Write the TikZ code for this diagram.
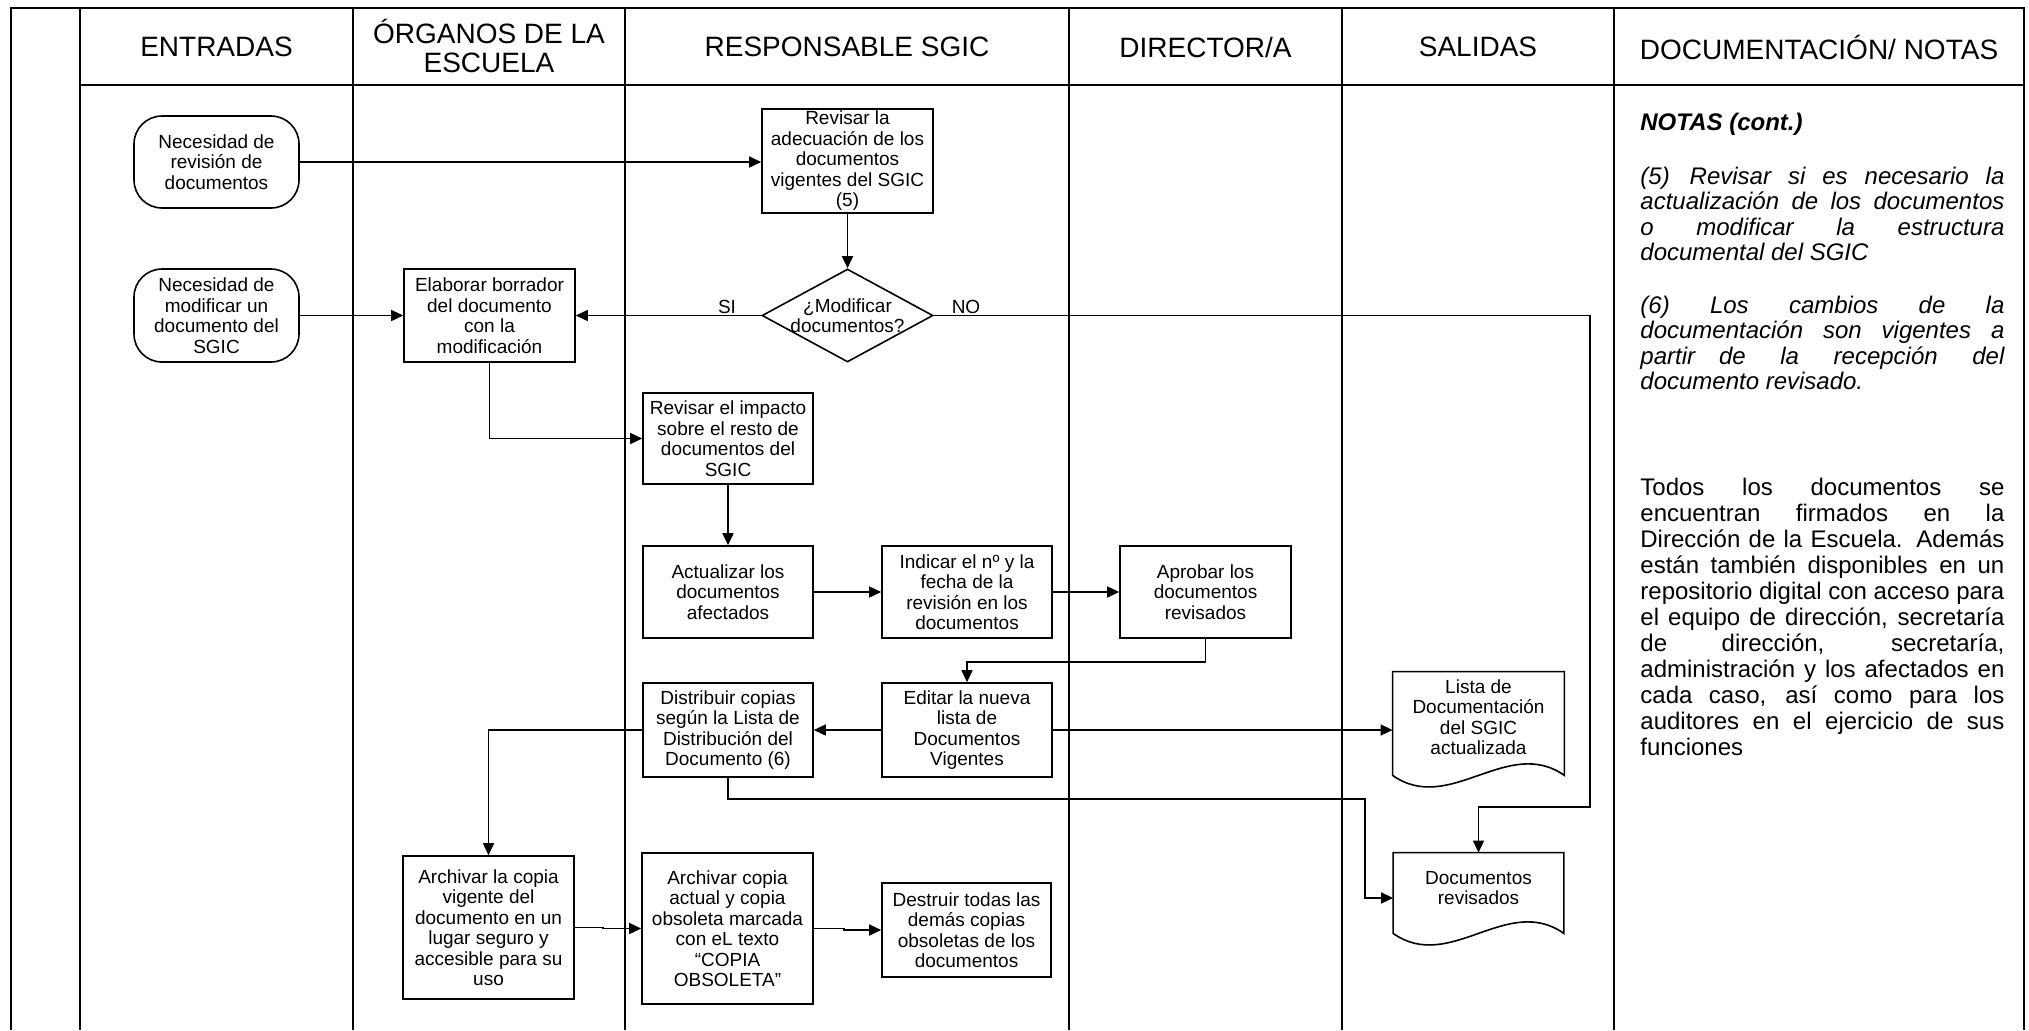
\documentclass[tikz,border=0pt]{standalone}
\usepackage{fontspec}
\setmainfont{Liberation Sans}
\usetikzlibrary{arrows.meta,shapes.geometric,calc}
\newcommand{\notejust}[1]{\hbox to 182pt{\spaceskip=0.278em plus 1fil minus 0.06em\relax #1}}
\newcommand{\noteleft}[1]{\hbox to 182pt{#1\hfil}}
\begin{document}
\begin{tikzpicture}[x=0.5pt,y=-0.5pt,
  gridline/.style={line width=1pt},
  box/.style={draw, rectangle, line width=0.8pt, inner sep=0pt, align=center, font=\fontsize{9.5}{10.25}\selectfont},
  term/.style={box, rounded corners=14pt},
  docnode/.style={rectangle, inner sep=0pt, align=center, font=\fontsize{9.5}{10.25}\selectfont},
  flow/.style={line width=0.8pt, -{Triangle[length=6pt,width=5.5pt]}},
  link/.style={line width=0.8pt},
  hdr/.style={align=center, inner sep=0pt, font=\fontsize{14}{14.5}\selectfont},
  lbl/.style={inner sep=0pt, align=center, font=\fontsize{9.5}{10.25}\selectfont},
  note/.style={anchor=base west, inner sep=0pt, font=\fontsize{12}{12.75}\selectfont}
]
\useasboundingbox (0,0) rectangle (2029,1030);
% frame
\draw[gridline] (11,1030) -- (11,8) -- (2024,8) -- (2024,1030);
\foreach \x in {80,353,625,1069,1342,1614} \draw[gridline] (\x,8) -- (\x,1030);
\draw[gridline] (80,85) -- (2024,85);
% headers
\node[hdr] (hE) at (216.5,47) {ENTRADAS};
\node[hdr] (hO) at (489,46) {ÓRGANOS DE LA\\ESCUELA};
\node[hdr] (hR) at (847,47) {RESPONSABLE SGIC};
\node[hdr] (hD) at (1205.5,47) {DIRECTOR/A};
\node[hdr] (hS) at (1478,47) {SALIDAS};
\node[hdr] (hN) at (1819,47) {DOCUMENTACIÓN/ NOTAS};
% nodes
\node[term, minimum width=82.5pt, minimum height=46pt] (n1) at (216.5,162) {Necesidad de\\revisión de\\documentos};
\node[term, minimum width=82.5pt, minimum height=46.5pt] (n2) at (216.5,315.5) {Necesidad de\\modificar un\\documento del\\SGIC};
\node[box, minimum width=85.5pt, minimum height=52pt] (rev) at (847.5,161) {Revisar la\\adecuación de los\\documentos\\vigentes del SGIC\\(5)};
\node[draw, diamond, line width=0.8pt, inner sep=0pt, minimum width=85.5pt, minimum height=46.5pt] (dia) at (847.5,315.5) {};
\node[lbl] (diat) at (dia.center) {¿Modificar\\documentos?};
\node[box, minimum width=85.5pt, minimum height=46.5pt] (elab) at (489.5,315.5) {Elaborar borrador\\del documento\\con la\\modificación};
\node[box, minimum width=85pt, minimum height=45.5pt] (imp) at (728,438.5) {Revisar el impacto\\sobre el resto de\\documentos del\\SGIC};
\node[box, minimum width=85pt, minimum height=46pt] (act) at (728,592) {Actualizar los\\documentos\\afectados};
\node[box, minimum width=85pt, minimum height=46pt] (ind) at (967,592) {Indicar el nº y la\\fecha de la\\revisión en los\\documentos};
\node[box, minimum width=85.5pt, minimum height=46pt] (apr) at (1205.5,592) {Aprobar los\\documentos\\revisados};
\node[box, minimum width=85pt, minimum height=47pt] (edi) at (967,730) {Editar la nueva\\lista de\\Documentos\\Vigentes};
\node[box, minimum width=85pt, minimum height=47pt] (dis) at (728,730) {Distribuir copias\\según la Lista de\\Distribución del\\Documento (6)};
\node[docnode, minimum width=85.5pt, minimum height=45pt] (lista) at (1478.5,717) {Lista de\\Documentación\\del SGIC\\actualizada};
\node[docnode, minimum width=85pt, minimum height=35pt] (docrev) at (1478.5,888) {Documentos\\revisados};
\node[box, minimum width=85.5pt, minimum height=71.5pt] (arc) at (488.5,927.5) {Archivar la copia\\vigente del\\documento en un\\lugar seguro y\\accesible para su\\uso};
\node[box, minimum width=85.5pt, minimum height=75.5pt] (aca) at (727.5,928.5) {Archivar copia\\actual y copia\\obsoleta marcada\\con eL texto\\“COPIA\\OBSOLETA”};
\node[box, minimum width=84.5pt, minimum height=47pt] (des) at (966.5,930) {Destruir todas las\\demás copias\\obsoletas de los\\documentos};
% document outlines
\draw[link] (lista.north west) -- (lista.north east) -- ($(lista.south east)+(0,13)$) .. controls +(-57,-40) and +(57,40) .. ($(lista.south west)+(0,13)$) -- cycle;
\draw[link] (docrev.north west) -- (docrev.north east) -- ($(docrev.south east)+(0,10)$) .. controls +(-57,-40) and +(57,40) .. ($(docrev.south west)+(0,10)$) -- cycle;
% labels
\node[lbl] (si) at (727,307) {SI};
\node[lbl] (no) at (966,307) {NO};
% connectors
\draw[flow] (n1.east) -- (n1.east -| rev.west);
\draw[flow] (rev.south) -- (dia.north);
\draw[flow] (dia.west) -- (elab.east);
\draw[flow] (n2.east) -- (elab.west);
\coordinate (noA) at (1590,807);
\draw[flow] (dia.east) -| (noA) -| (docrev.north);
\draw[flow] (elab.south) |- (imp.west);
\draw[flow] (imp.south) -- (act.north);
\draw[flow] (act.east) -- (ind.west);
\draw[flow] (ind.east) -- (apr.west);
\draw[flow] (apr.south) -- ++(0,23) -| (edi.north);
\draw[flow] (edi.west) -- (dis.east);
\draw[flow] (edi.east) -- (edi.east -| lista.west);
\draw[flow] (dis.west) -| (arc.north);
\coordinate (dsA) at (1365,799);
\draw[flow] (dis.south) |- (dsA) |- ($(docrev.west)+(0,10)$);
\draw[flow] (arc.east) -- ++(28,0) |- (aca.west);
\draw[flow] (aca.east) -- ++(30,0) |- (des.west);
% notes
\node[note] (nh) at (1640,130) {\bfseries\itshape NOTAS (cont.)};
\node[note] (n5) at (1640,184) {\itshape\vtop{\notejust{(5)\hskip 10pt Revisar si es necesario la}\notejust{actualización de los documentos}\notejust{o modificar la estructura}\noteleft{documental del SGIC}}};
\node[note] (n6) at (1640,313) {\itshape\vtop{\notejust{(6) Los cambios de la}\notejust{documentación son vigentes a}\notejust{partir\hskip 12pt de la recepción del}\noteleft{documento revisado.}}};
\node[note, font=\fontsize{12}{13}\selectfont] (nt) at (1640,495) {\vtop{\notejust{Todos los documentos se}\notejust{encuentran firmados en la}\notejust{Dirección de la Escuela. Además}\notejust{están también disponibles en un}\notejust{repositorio digital con acceso para}\notejust{el equipo de dirección, secretaría}\notejust{de dirección, secretaría,}\notejust{administración y los afectados en}\notejust{cada caso, así como para los}\notejust{auditores en el ejercicio de sus}\noteleft{funciones}}};
\end{tikzpicture}
\end{document}
